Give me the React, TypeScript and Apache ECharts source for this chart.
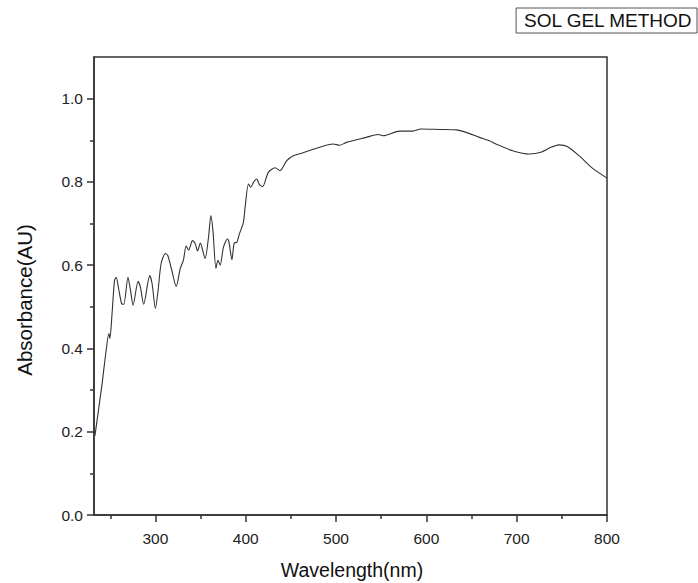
import React, { useEffect, useRef } from "react";
import * as echarts from "echarts";

const wavelength = [
  233, 241, 245, 248.5, 249.6, 252, 254.7, 256.6, 259, 262.5, 265, 269.6, 272.4, 275.3, 280.8, 283.4, 287,
  293.7, 296.3, 300, 303, 306.3, 311, 313.6, 317.3, 323, 327.5, 331, 334, 336.8, 341, 344, 346.6, 349.7, 355,
  358.8, 361.4, 363.7, 367, 369.2, 371.7, 375.3, 379.7, 381.5, 384.7, 387.2, 390.2, 393, 397.4, 399.3, 403,
  405.6, 408.5, 412.2, 415, 418.8, 425, 432.5, 438, 445.4, 452.7, 461.9, 478.5, 496.8, 504, 511.5, 533.6,
  546.4, 552, 570.4, 585, 594, 614.6, 633, 644, 658.7, 669.8, 677, 695.5, 714, 726.8, 737.8, 747, 756, 769,
  783.8, 800,
];
const absorbance = [
  0.19, 0.316, 0.388, 0.436, 0.424, 0.484, 0.563, 0.571, 0.547, 0.508, 0.506, 0.571, 0.54, 0.504, 0.561, 0.547,
  0.506, 0.575, 0.556, 0.496, 0.54, 0.604, 0.628, 0.624, 0.595, 0.549, 0.592, 0.612, 0.646, 0.636, 0.659, 0.652,
  0.634, 0.653, 0.616, 0.667, 0.719, 0.683, 0.592, 0.612, 0.6, 0.643, 0.663, 0.655, 0.613, 0.653, 0.655, 0.675,
  0.703, 0.739, 0.795, 0.787, 0.799, 0.807, 0.794, 0.789, 0.823, 0.834, 0.827, 0.851, 0.863, 0.869, 0.881,
  0.891, 0.888, 0.895, 0.907, 0.914, 0.911, 0.922, 0.922, 0.927, 0.926, 0.925, 0.919, 0.907, 0.899, 0.891,
  0.875, 0.867, 0.871, 0.883, 0.889, 0.885, 0.863, 0.833, 0.809,
];
const xMajorTicks = [300, 400, 500, 600, 700, 800];
const xMinorTicks = [250, 350, 450, 550, 650, 750];
const yMajorTicks = [0, 0.2, 0.4, 0.6, 0.8, 1.0];
const yMinorTicks = [0.1, 0.3, 0.5, 0.7, 0.9];
const seriesName = "SOL GEL METHOD";
const xTitle = "Wavelength(nm)";
const yTitle = "Absorbance(AU)";

export default function App() {
  const ref = useRef<HTMLDivElement>(null);
  useEffect(() => {
    if (!ref.current) return;
    const chart = echarts.init(ref.current, undefined, { renderer: "svg" });
    const font = "'Liberation Sans', Arial, sans-serif";
    const axisLine = { show: true, lineStyle: { color: "#333", width: 1.5 } };
    const xMin = 232;
    const xMax = 800;
    const yMin = 0;
    const yMax = 1.1;
    chart.setOption({
      animation: false,
      backgroundColor: "#fff",
      grid: {
        left: 94,
        right: 91,
        top: 57,
        bottom: 68,
        show: true,
        borderColor: "#333",
        borderWidth: 1.5,
        backgroundColor: "transparent",
      },
      legend: {
        data: [seriesName],
        right: 1,
        top: 8,
        icon: "none",
        itemWidth: 0,
        itemHeight: 0,
        borderColor: "#555",
        borderWidth: 1,
        padding: [3, 4, 3, 3],
        textStyle: { fontFamily: font, fontSize: 19, color: "#111" },
      },
      xAxis: [
        {
          type: "value",
          min: xMin,
          max: xMax,
          position: "bottom",
          axisLine,
          splitLine: { show: false },
          axisTick: { show: true, customValues: xMajorTicks, length: 7, lineStyle: { color: "#333", width: 1.5 } },
          axisLabel: { customValues: xMajorTicks, fontFamily: font, fontSize: 15.5, color: "#222", margin: 15 },
        },
        {
          type: "value",
          min: xMin,
          max: xMax,
          position: "bottom",
          axisLine: { show: false },
          splitLine: { show: false },
          axisTick: { show: true, customValues: xMinorTicks, length: 4, lineStyle: { color: "#333", width: 1.5 } },
          axisLabel: { show: false },
        },
      ],
      yAxis: [
        {
          type: "value",
          min: yMin,
          max: yMax,
          position: "left",
          axisLine,
          splitLine: { show: false },
          axisTick: { show: true, customValues: yMajorTicks, length: 7, lineStyle: { color: "#333", width: 1.5 } },
          axisLabel: {
            customValues: yMajorTicks,
            fontFamily: font,
            fontSize: 15.5,
            color: "#222",
            margin: 11,
            formatter: (v: number) => v.toFixed(1),
          },
        },
        {
          type: "value",
          min: yMin,
          max: yMax,
          position: "left",
          axisLine: { show: false },
          splitLine: { show: false },
          axisTick: { show: true, customValues: yMinorTicks, length: 4, lineStyle: { color: "#333", width: 1.5 } },
          axisLabel: { show: false },
        },
      ],
      graphic: [
        {
          type: "text",
          x: 352,
          y: 570,
          style: {
            text: xTitle,
            fontFamily: font,
            fontSize: 19.5,
            fill: "#111",
            textAlign: "center",
            textVerticalAlign: "middle",
          },
        },
        {
          type: "text",
          x: 24,
          y: 300,
          rotation: Math.PI / 2,
          style: {
            text: yTitle,
            fontFamily: font,
            fontSize: 20.5,
            fill: "#111",
            textAlign: "center",
            textVerticalAlign: "middle",
          },
        },
      ],
      series: [
        {
          name: seriesName,
          type: "line",
          xAxisIndex: 0,
          yAxisIndex: 0,
          data: wavelength.map((w, i) => [w, absorbance[i]]),
          showSymbol: false,
          smooth: 0.25,
          lineStyle: { color: "#333", width: 1.1 },
          clip: true,
        },
      ],
    });
    return () => chart.dispose();
  }, []);
  return <div ref={ref} style={{ position: "fixed", left: 0, top: 0, width: 698, height: 583, background: "#fff" }} />;
}
